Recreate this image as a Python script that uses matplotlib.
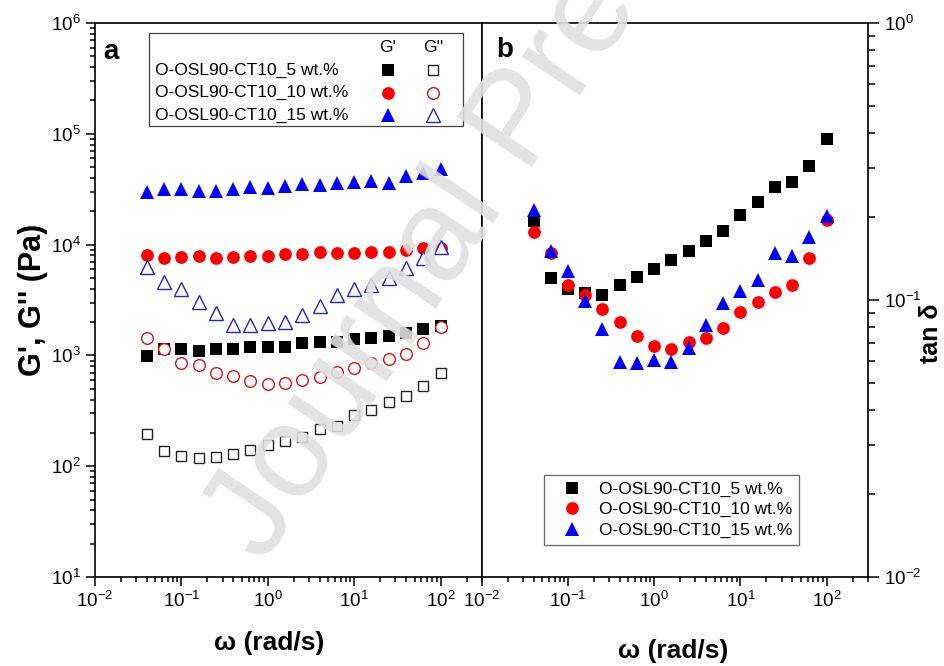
import numpy as np
import matplotlib
matplotlib.use("Agg")
import matplotlib.pyplot as plt
from matplotlib.ticker import LogLocator, NullFormatter
from matplotlib.patches import Rectangle

plt.rcParams['font.family'] = ['Liberation Sans', 'DejaVu Sans']
plt.rcParams['mathtext.default'] = 'regular'

# angular frequency (rad/s)
omega = [0.04, 0.063, 0.1, 0.158, 0.25, 0.4, 0.63, 1.0, 1.58, 2.5,
         4.0, 6.3, 10, 15.8, 25, 40, 63, 100]

# storage / loss moduli (Pa)
g1_5 = [989, 1136, 1136, 1103, 1136, 1136, 1183, 1198, 1198, 1285,
        1312, 1330, 1397, 1426, 1496, 1584, 1722, 1840]
g2_5 = [194, 137, 124, 118, 120, 129, 140, 155, 169, 184,
        215, 231, 290, 322, 380, 434, 529, 698]
g1_10 = [8050, 7620, 7680, 7880, 7520, 7780, 7940, 7940, 8230, 8230,
         8630, 8450, 8450, 8630, 8630, 9030, 9270, 9270]
g2_10 = [1445, 1135, 859, 819, 697, 651, 590, 552, 567, 600,
         642, 708, 774, 859, 933, 1030, 1288, 1820]
g1_15 = [29900, 31800, 31800, 30500, 30500, 31800, 33100, 32400, 33800, 35300,
         34500, 36000, 36700, 37500, 36000, 41600, 44300, 48100]
g2_15 = [6310, 4620, 3970, 3050, 2400, 1880, 1880, 1970, 2010, 2320,
         2790, 3510, 3950, 4320, 4960, 6110, 7620, 9460]

# loss factor tan delta
tan_5 = [0.193, 0.1197, 0.1093, 0.1057, 0.1042, 0.1133, 0.1213, 0.129, 0.140, 0.1507,
         0.1636, 0.177, 0.2027, 0.2264, 0.256, 0.267, 0.305, 0.382]
tan_10 = [0.1765, 0.1474, 0.1133, 0.1042, 0.0928, 0.0831, 0.0743, 0.0684, 0.0665, 0.0704,
          0.0727, 0.0790, 0.0903, 0.0981, 0.1066, 0.1133, 0.1415, 0.1944]
tan_15 = [0.2113, 0.1503, 0.1276, 0.0994, 0.0789, 0.0599, 0.0591, 0.0607, 0.0595, 0.0671,
          0.0812, 0.0978, 0.108, 0.118, 0.1475, 0.1445, 0.1693, 0.201]

labels = ['O-OSL90-CT10_5 wt.%', 'O-OSL90-CT10_10 wt.%', 'O-OSL90-CT10_15 wt.%']
colors = ['black', '#ff0000', '#0000ff']
open_colors = ['#222222', '#dd1111', '#2222cc']
markers = ['s', 'o', '^']
msizes = [8.5, 9.2, 10.5]

fig = plt.figure(figsize=(9.44, 6.66), dpi=100)
ax1 = fig.add_axes([0.1006, 0.1336, 0.4100, 0.8318])
ax2 = fig.add_axes([0.5106, 0.1336, 0.4089, 0.8318])

g1 = [g1_5, g1_10, g1_15]
g2 = [g2_5, g2_10, g2_15]
tans = [tan_5, tan_10, tan_15]

for i in range(3):
    ax1.plot(omega, g1[i], ls='none', marker=markers[i], ms=msizes[i],
             color=colors[i], mec=colors[i], mew=0)
    ax1.plot(omega, g2[i], ls='none', marker=markers[i], ms=msizes[i] - 0.8,
             mfc='white', mec=open_colors[i], mew=1.0)
    ax2.plot(omega, tans[i], ls='none', marker=markers[i], ms=msizes[i],
             color=colors[i], mec=colors[i], mew=0, label=labels[i])

for ax in (ax1, ax2):
    ax.set_xscale('log')
    ax.set_yscale('log')
    ax.set_xlim(0.01, 10 ** 2.48)
    ax.xaxis.set_major_locator(LogLocator(base=10, numticks=10))
    ax.xaxis.set_minor_locator(LogLocator(base=10, subs=np.arange(2, 10), numticks=20))
    ax.xaxis.set_minor_formatter(NullFormatter())
    ax.yaxis.set_major_locator(LogLocator(base=10, numticks=10))
    ax.yaxis.set_minor_locator(LogLocator(base=10, subs=np.arange(2, 10), numticks=20))
    ax.yaxis.set_minor_formatter(NullFormatter())
    for sp in ax.spines.values():
        sp.set_linewidth(1.2)
    ax.tick_params(which='both', direction='out', width=1.1, labelsize=13.5)
    ax.tick_params(which='major', length=6.5)
    ax.tick_params(which='minor', length=3.3)

ax1.set_ylim(10, 1e6)
ax1.set_xticks([0.01, 0.1, 1, 10, 100])
ax1.tick_params(top=False, right=False)

ax2.set_ylim(0.01, 1)
ax2.set_xticks([0.01, 0.1, 1, 10, 100])
ax2.yaxis.tick_right()
ax2.tick_params(axis='y', which='major', length=8)
ax2.tick_params(axis='y', which='minor', length=4.8)
ax2.tick_params(top=False, left=False)

ax1.set_ylabel("G', G'' (Pa)", fontsize=22, fontweight='bold', labelpad=2)
ax1.set_xlabel('ω (rad/s)', fontsize=19, fontweight='bold')
ax1.xaxis.set_label_coords(0.45, -0.098)
ax2.set_xlabel('ω (rad/s)', fontsize=19, fontweight='bold')
ax2.xaxis.set_label_coords(0.495, -0.112)
fig.text(931 / 944, 0.5, 'tan δ', rotation=90, fontsize=18, fontweight='bold',
         ha='center', va='center')

ax1.text(0.04, 0.948, 'a', transform=ax1.transAxes, fontsize=20,
         fontweight='bold', ha='center', va='center')
ax2.text(0.06, 0.951, 'b', transform=ax2.transAxes, fontsize=20,
         fontweight='bold', ha='center', va='center', zorder=30)

# legend of panel a (two marker columns)
ax1.add_patch(Rectangle((0.1395, 0.814), 0.8115, 0.168, transform=ax1.transAxes,
                        fill=False, ec='#444444', lw=0.9, zorder=5))
ax1.text(0.757, 0.955, "G'", transform=ax1.transAxes, fontsize=12.5,
         ha='center', va='center', zorder=6)
ax1.text(0.873, 0.955, "G''", transform=ax1.transAxes, fontsize=12.5,
         ha='center', va='center', zorder=6)
row_y = [0.915, 0.874, 0.834]
for i in range(3):
    ax1.text(0.155, row_y[i], labels[i], transform=ax1.transAxes, fontsize=12.5,
             ha='left', va='center', zorder=6)
    ax1.plot([0.757], [row_y[i]], transform=ax1.transAxes, ls='none',
             marker=markers[i], ms=msizes[i], color=colors[i], mew=0, zorder=6)
    ax1.plot([0.873], [row_y[i]], transform=ax1.transAxes, ls='none',
             marker=markers[i], ms=msizes[i] - 0.8, mfc='white',
             mec=open_colors[i], mew=1.0, zorder=6)

leg = ax2.legend(loc='lower left', bbox_to_anchor=(0.161, 0.058), fontsize=12.5,
                 frameon=True, fancybox=False, edgecolor='#444444',
                 borderpad=0.4, handlelength=2.4, handletextpad=0.35,
                 labelspacing=0.3, borderaxespad=0)
leg.get_frame().set_linewidth(0.9)

# watermark
fig.text(0.279, 0.152, 'Journal Pre-proof', rotation=56, rotation_mode='anchor',
         fontsize=95, color='#e0e0e0', alpha=0.9,
         ha='left', va='baseline', zorder=20)

fig.savefig('out.png', dpi=100, facecolor='white')
